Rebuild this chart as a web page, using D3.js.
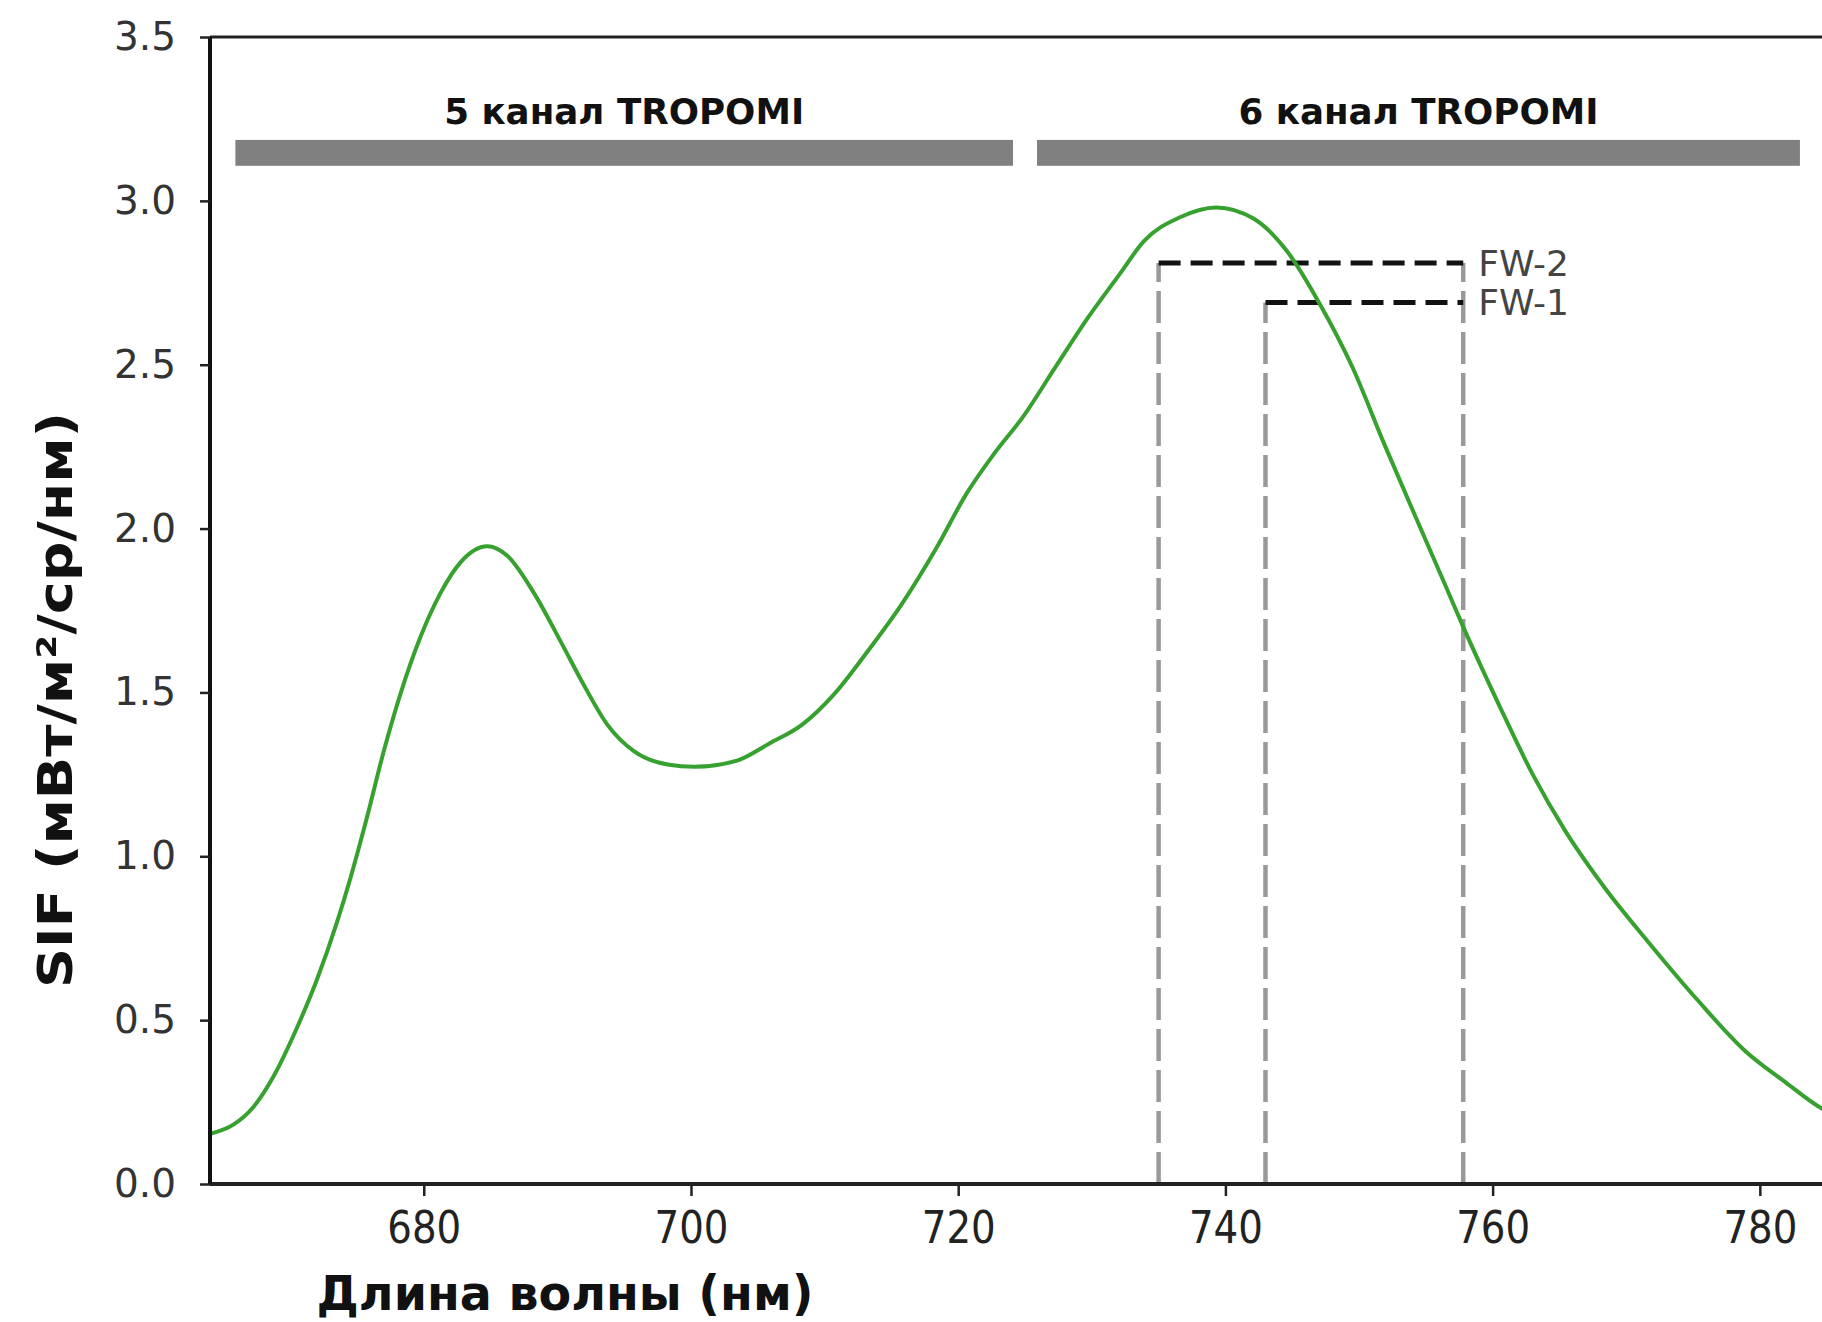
<!DOCTYPE html>
<html>
<head>
<meta charset="utf-8">
<script src="https://cdn.jsdelivr.net/npm/d3@7"></script>
<style>
  body { margin: 0; background: #fff; }
</style>
</head>
<body>
<div id="chart"></div>
<script>
// SIF spectrum
const wavelength = [664.1, 665.75, 667.25, 668.75, 670.5, 672.0, 673.5, 674.5, 675.75, 677.0, 678.25, 679.75, 681.25, 682.75, 684.75, 686.25, 688.25, 690.25, 692.0, 693.75, 695.75, 698.25, 700.25, 703.45, 705.9, 708.3, 710.7, 713.1, 715.75, 718.4, 720.6, 722.7, 724.85, 727.25, 729.65, 732.1, 733.9, 736.6, 739.3, 742.1, 744.6, 747.0, 749.5, 751.9, 754.4, 756.5, 757.8, 760.5, 763.0, 765.4, 768.5, 771.6, 775.3, 778.9, 782.0, 784.7, 786.0];
const sif = [0.154, 0.181, 0.235, 0.328, 0.476, 0.623, 0.798, 0.932, 1.119, 1.320, 1.495, 1.669, 1.803, 1.897, 1.946, 1.917, 1.803, 1.655, 1.521, 1.401, 1.320, 1.280, 1.273, 1.292, 1.345, 1.401, 1.494, 1.619, 1.768, 1.943, 2.105, 2.229, 2.341, 2.491, 2.640, 2.777, 2.877, 2.950, 2.980, 2.946, 2.847, 2.690, 2.493, 2.257, 2.020, 1.823, 1.700, 1.460, 1.250, 1.080, 0.898, 0.741, 0.563, 0.406, 0.308, 0.229, 0.205];

const xTicks = [680, 700, 720, 740, 760, 780];
const yTicks = [0, 0.5, 1.0, 1.5, 2.0, 2.5, 3.0, 3.5];

// TROPOMI channels (bars at the top)
const channelNames = ["5 канал TROPOMI", "6 канал TROPOMI"];
const channelStart = [665.9, 725.9];
const channelEnd = [724.1, 783.0];
const channelLow = 3.107, channelHigh = 3.186;

// fitting windows
const windowNames = ["FW-2", "FW-1"];
const windowStart = [735, 743];
const windowEnd = [757.8, 757.8];
const windowLevel = [2.81, 2.69];

const width = 1822, height = 1322;
const margin = {top: 37, left: 210, bottom: 138, right: -18};

const svg = d3.select("#chart").append("svg")
    .attr("width", width)
    .attr("height", height)
    .style("background", "#fff");

const x = d3.scaleLinear().domain([664, 786]).range([margin.left, width - margin.right]);
const y = d3.scaleLinear().domain([0, 3.5]).range([height - margin.bottom, margin.top]);

// top frame line
svg.append("line")
    .attr("x1", margin.left).attr("x2", width - margin.right)
    .attr("y1", y(3.5)).attr("y2", y(3.5))
    .attr("stroke", "#222").attr("stroke-width", 3);

// channel bars + labels
channelNames.forEach((name, i) => {
    svg.append("rect")
        .attr("x", x(channelStart[i]))
        .attr("y", y(channelHigh))
        .attr("width", x(channelEnd[i]) - x(channelStart[i]))
        .attr("height", y(channelLow) - y(channelHigh))
        .attr("fill", "#808080");
    svg.append("text")
        .attr("x", (x(channelStart[i]) + x(channelEnd[i])) / 2)
        .attr("y", 124)
        .attr("text-anchor", "middle")
        .attr("font-family", "DejaVu Sans")
        .attr("font-weight", "bold")
        .attr("font-size", 35)
        .attr("textLength", 360)
        .attr("lengthAdjust", "spacingAndGlyphs")
        .attr("fill", "#111")
        .text(name);
});

// gray verticals of the windows
const grayDash = svg.append("g")
    .attr("stroke", "#999").attr("stroke-width", 4.5)
    .attr("stroke-dasharray", "32,9").attr("fill", "none");
windowNames.forEach((name, i) => {
    grayDash.append("line")
        .attr("x1", x(windowStart[i])).attr("x2", x(windowStart[i]))
        .attr("y1", y(0)).attr("y2", y(windowLevel[i]));
});
grayDash.append("line")
    .attr("x1", x(windowEnd[0])).attr("x2", x(windowEnd[0]))
    .attr("y1", y(0)).attr("y2", y(d3.max(windowLevel)));

// black horizontals + FW labels
windowNames.forEach((name, i) => {
    svg.append("line")
        .attr("x1", x(windowStart[i])).attr("x2", x(windowEnd[i]))
        .attr("y1", y(windowLevel[i])).attr("y2", y(windowLevel[i]))
        .attr("stroke", "#111").attr("stroke-width", 5)
        .attr("stroke-dasharray", "22,10");
    svg.append("text")
        .attr("x", x(windowEnd[i]) + 15)
        .attr("y", y(windowLevel[i]))
        .attr("dy", "0.36em")
        .attr("font-family", "DejaVu Sans")
        .attr("font-size", 36)
        .attr("fill", "#444")
        .text(name);
});

// the spectrum
const pts = wavelength.map((w, i) => [w, sif[i]]);
svg.append("path")
    .datum(pts)
    .attr("fill", "none")
    .attr("stroke", "#36a12e")
    .attr("stroke-width", 4)
    .attr("d", d3.line()
        .x(d => x(d[0]))
        .y(d => y(d[1]))
        .curve(d3.curveMonotoneX));

// axes
const xAxis = svg.append("g")
    .attr("transform", "translate(0," + y(0) + ")")
    .call(d3.axisBottom(x).tickValues(xTicks).tickSize(12).tickPadding(16).tickFormat(d3.format("d")));
xAxis.select(".domain").attr("stroke", "#222").attr("stroke-width", 4)
    .attr("d", "M" + margin.left + ",0H" + width);
xAxis.selectAll(".tick line").attr("stroke", "#222").attr("stroke-width", 2.5);
xAxis.selectAll(".tick text")
    .attr("font-family", "DejaVu Sans").attr("font-size", 44).attr("fill", "#222")
    .attr("transform", "scale(0.88,1)");

const yAxis = svg.append("g")
    .attr("transform", "translate(" + margin.left + ",0)")
    .call(d3.axisLeft(y).tickValues(yTicks).tickSize(10).tickPadding(24).tickFormat(d3.format(".1f")));
yAxis.select(".domain").attr("stroke", "#111").attr("stroke-width", 4)
    .attr("d", "M0," + y(0) + "V" + y(3.5));
yAxis.selectAll(".tick line").attr("stroke", "#222").attr("stroke-width", 2.5);
yAxis.selectAll(".tick text")
    .attr("font-family", "DejaVu Sans").attr("font-size", 39).attr("fill", "#333");

// axis titles
svg.append("text")
    .attr("x", 565).attr("y", 1310)
    .attr("text-anchor", "middle")
    .attr("font-family", "DejaVu Sans").attr("font-weight", "bold")
    .attr("font-size", 48)
    .attr("textLength", 497).attr("lengthAdjust", "spacingAndGlyphs")
    .attr("fill", "#111")
    .text("Длина волны (нм)");

svg.append("text")
    .attr("transform", "translate(72,700) rotate(-90)")
    .attr("text-anchor", "middle")
    .attr("font-family", "DejaVu Sans").attr("font-weight", "bold")
    .attr("font-size", 48)
    .attr("textLength", 576).attr("lengthAdjust", "spacingAndGlyphs")
    .attr("fill", "#111")
    .text("SIF (мВт/м²/ср/нм)");
</script>
</body>
</html>
